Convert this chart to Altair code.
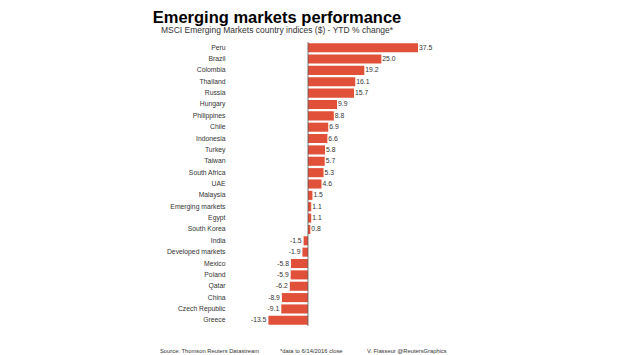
import altair as alt
import pandas as pd

countries = ["Peru", "Brazil", "Colombia", "Thailand", "Russia", "Hungary",
             "Philippines", "Chile", "Indonesia", "Turkey", "Taiwan",
             "South Africa", "UAE", "Malaysia", "Emerging markets", "Egypt",
             "South Korea", "India", "Developed markets", "Mexico", "Poland",
             "Qatar", "China", "Czech Republic", "Greece"]
values = [37.5, 25.0, 19.2, 16.1, 15.7, 9.9, 8.8, 6.9, 6.6, 5.8, 5.7, 5.3, 4.6,
          1.5, 1.1, 1.1, 0.8, -1.5, -1.9, -5.8, -5.9, -6.2, -8.9, -9.1, -13.5]

title_text = "Emerging markets performance"
subtitle_text = "MSCI Emerging Markets country indices ($) - YTD % change*"
footer_source = "Source: Thomson Reuters Datastream"
footer_note = "*data to 6/14/2016 close"
footer_credit = "V. Flasseur @ReutersGraphics"

df = pd.DataFrame({"country": countries, "value": values})
df["label"] = [f"{v:.1f}" for v in values]

FONT = "Liberation Sans"
BAR = "#E1513A"
XSCALE = alt.Scale(domain=[-26.59, 41.59], nice=False, zero=False)

x_enc = alt.X("value:Q", scale=XSCALE, axis=None)
y_enc = alt.Y("country:N", sort=countries, title=None,
              scale=alt.Scale(paddingInner=0.2, paddingOuter=0.1),
              axis=alt.Axis(domain=False, ticks=False, labelPadding=5, labelFont=FONT,
                            labelFontSize=6.8, labelColor="#333333", grid=False))

base = alt.Chart(df)

bars = base.mark_bar(color=BAR).encode(x=x_enc, y=y_enc)

pos_labels = base.transform_filter("datum.value >= 0").mark_text(
    align="left", baseline="middle", dx=1, font=FONT, fontSize=6.8, color="#333333"
).encode(x=x_enc, y=y_enc, text="label:N")

neg_labels = base.transform_filter("datum.value < 0").mark_text(
    align="right", baseline="middle", dx=-2, font=FONT, fontSize=6.8, color="#333333"
).encode(x=x_enc, y=y_enc, text="label:N")

zero_rule = alt.Chart(pd.DataFrame({"z": [0]})).mark_rule(color="#555555", strokeWidth=0.8).encode(
    x=alt.X("z:Q", scale=XSCALE, axis=None)
)

def footer(text, xpos):
    return alt.Chart(pd.DataFrame({"t": [text]})).mark_text(
        align="left", baseline="middle", font=FONT, fontSize=5.8, color="#333333"
    ).encode(text="t:N", x=alt.value(xpos), y=alt.value(309))

chart = alt.layer(
    bars, zero_rule, pos_labels, neg_labels,
    footer(footer_source, -70), footer(footer_note, 50), footer(footer_credit, 137)
).properties(
    width=200, height=284,
    autosize=alt.AutoSizeParams(type="none"),
    padding={"left": 222, "top": 34, "right": 182, "bottom": 32},
    title=alt.TitleParams(
        text=title_text, subtitle=subtitle_text, anchor="middle", dx=-53,
        font=FONT, fontSize=16.5, fontWeight="bold", color="#000000",
        subtitleFont=FONT, subtitleFontSize=8.5, subtitleColor="#333333",
        subtitlePadding=0, offset=7
    )
).configure_view(stroke=None)

chart.save("out.html", embed_options={"renderer": "svg", "actions": False})
